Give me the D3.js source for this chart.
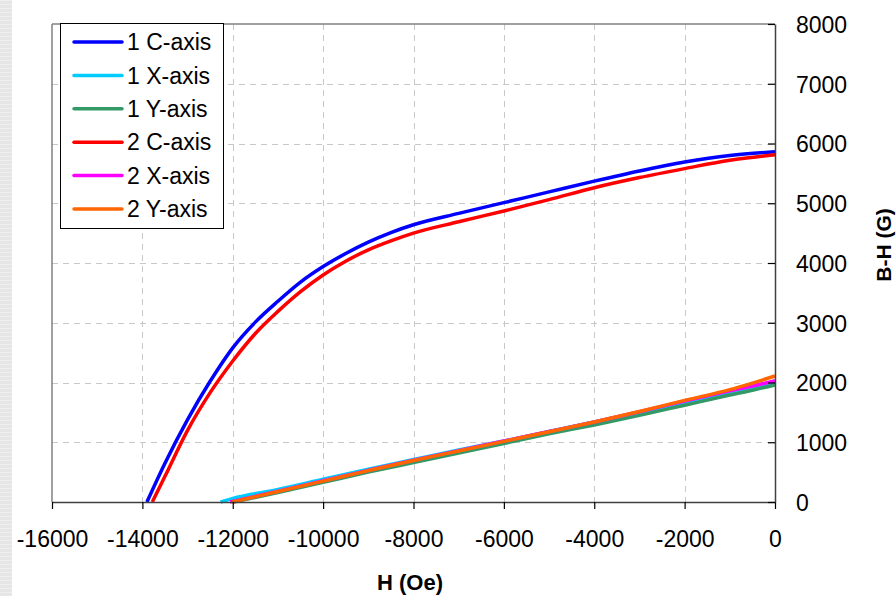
<!DOCTYPE html>
<html>
<head>
<meta charset="utf-8">
<script src="https://cdn.jsdelivr.net/npm/d3@7"></script>
<style>
  html, body { margin: 0; padding: 0; background: #fff; }
  svg { display: block; font-family: "Liberation Sans", Arial, sans-serif; }
</style>
</head>
<body>
<svg id="chart" width="896" height="596"></svg>
<script>
// ---- data ----
const seriesNames = ["1 C-axis", "1 X-axis", "1 Y-axis", "2 C-axis", "2 X-axis", "2 Y-axis"];
const seriesColors = ["#0000ff", "#00ccff", "#339966", "#ff0000", "#ff00ff", "#ff6600"];

const h1C = [-13900, -13500, -13000, -12500, -12000, -11500, -11000, -10500, -10000, -9500, -9000, -8500, -8000, -7000, -6000, -5000, -4000, -3000, -2000, -1000, 0];
const b1C = [0, 650, 1380, 2020, 2580, 3010, 3360, 3680, 3940, 4160, 4350, 4510, 4640, 4830, 5010, 5190, 5370, 5540, 5690, 5800, 5860];

const h2C = [-13780, -13500, -13000, -12500, -12000, -11500, -11000, -10500, -10000, -9500, -9000, -8500, -8000, -7000, -6000, -5000, -4000, -3000, -2000, -1000, 0];
const b2C = [0, 430, 1200, 1830, 2360, 2820, 3190, 3520, 3800, 4030, 4220, 4370, 4500, 4690, 4870, 5060, 5260, 5430, 5580, 5720, 5810];

const h1X = [-12270, -12000, -11000, -10000, -9000, -8000, -7000, -6000, -5000, -4000, -3000, -2000, -1000, -500, 0];
const b1X = [0, 60, 210, 380, 550, 710, 870, 1020, 1180, 1340, 1500, 1660, 1830, 1910, 1990];

const h1Y = [-11980, -11000, -10000, -9000, -8000, -7000, -6000, -5000, -4000, -3000, -2000, -1000, -500, 0];
const b1Y = [0, 160, 330, 500, 660, 820, 980, 1140, 1290, 1450, 1620, 1790, 1870, 1960];

const h2X = [-12060, -11000, -10000, -9000, -8000, -7000, -6000, -5000, -4000, -3000, -2000, -1000, -500, 0];
const b2X = [0, 180, 355, 530, 700, 860, 1020, 1180, 1340, 1510, 1690, 1860, 1940, 2030];

const h2Y = [-12010, -11000, -10000, -9000, -8000, -7000, -6000, -5000, -4000, -3000, -2000, -1000, -500, 0];
const b2Y = [0, 175, 350, 525, 695, 855, 1015, 1175, 1340, 1515, 1700, 1880, 1990, 2110];

const xTicks = [-16000, -14000, -12000, -10000, -8000, -6000, -4000, -2000, 0];
const yTicks = [0, 1000, 2000, 3000, 4000, 5000, 6000, 7000, 8000];
const xTitle = "H (Oe)";
const yTitle = "B-H (G)";

// ---- layout ----
const svg = d3.select("#chart");
const L = 52, R = 775, T = 24, B = 502;
const x = d3.scaleLinear().domain([-16000, 0]).range([L, R]);
const y = d3.scaleLinear().domain([0, 8000]).range([B, T]);

// left textured stripe
const stripe = svg.append("g");
stripe.append("rect").attr("x", 0).attr("y", 0).attr("width", 12).attr("height", 596).attr("fill", "#e6e6e6");
stripe.selectAll("line.s").data(d3.range(0, 596, 4)).join("line")
  .attr("x1", 0).attr("x2", 12).attr("y1", d => d + 0.5).attr("y2", d => d + 0.5)
  .attr("stroke", "#efefef").attr("stroke-width", 1);

// grid
const grid = svg.append("g");
grid.selectAll("line.gx").data(xTicks.filter(t => t > -16000 && t < 0)).join("line")
  .attr("x1", d => Math.round(x(d)) + 0.5).attr("x2", d => Math.round(x(d)) + 0.5)
  .attr("y1", T).attr("y2", B)
  .attr("stroke", "#c8c8c8").attr("stroke-width", 1).attr("stroke-dasharray", "6,5");
grid.selectAll("line.gy").data(yTicks.filter(t => t > 0 && t < 8000)).join("line")
  .attr("x1", L).attr("x2", R)
  .attr("y1", d => Math.round(y(d)) + 0.5).attr("y2", d => Math.round(y(d)) + 0.5)
  .attr("stroke", "#c8c8c8").attr("stroke-width", 1).attr("stroke-dasharray", "6,5");

// frame top & left
svg.append("line").attr("x1", L).attr("x2", R).attr("y1", T).attr("y2", T).attr("stroke", "#808080").attr("stroke-width", 1.5);
svg.append("line").attr("x1", L).attr("x2", L).attr("y1", T).attr("y2", B).attr("stroke", "#808080").attr("stroke-width", 1.5);

// series
const seriesH = [h1C, h1X, h1Y, h2C, h2X, h2Y];
const seriesB = [b1C, b1X, b1Y, b2C, b2X, b2Y];
const line = d3.line().x(d => x(d[0])).y(d => y(d[1])).curve(d3.curveMonotoneX);
const order = [0, 3, 1, 2, 4, 5];
const plot = svg.append("g");
order.forEach(i => {
  const pts = seriesH[i].map((h, k) => [h, seriesB[i][k]]);
  plot.append("path").datum(pts).attr("d", line)
    .attr("fill", "none").attr("stroke", seriesColors[i]).attr("stroke-width", 3.5)
    .attr("stroke-linejoin", "round");
});

// axes
const fs = 23;
const fmt = d => String(d);
const xAxis = d3.axisBottom(x).tickValues(xTicks).tickFormat(fmt).tickSize(7).tickSizeOuter(0);
const gx = svg.append("g").attr("transform", `translate(0,${B})`).call(xAxis);
gx.select(".domain").attr("stroke", "#404040").attr("stroke-width", 1.5);
gx.selectAll(".tick line").attr("stroke", "#000").attr("stroke-width", 1.2);
gx.selectAll(".tick text").attr("font-size", fs).attr("fill", "#000").attr("font-family", "Liberation Sans, Arial, sans-serif")
  .attr("y", 0).attr("dy", 0).attr("transform", "translate(0,45)");

const yAxis = d3.axisLeft(y).tickValues(yTicks).tickFormat(fmt).tickSize(7).tickSizeOuter(0);
const gy = svg.append("g").attr("transform", `translate(${R},0)`).call(yAxis);
gy.select(".domain").attr("stroke", "#404040").attr("stroke-width", 1.5);
gy.selectAll(".tick line").attr("stroke", "#000").attr("stroke-width", 1.2);
gy.selectAll(".tick text").attr("font-size", fs).attr("fill", "#000").attr("font-family", "Liberation Sans, Arial, sans-serif")
  .attr("text-anchor", "start").attr("x", 21).attr("dy", "0.36em");

// axis titles
svg.append("text").attr("x", 410).attr("y", 590).attr("text-anchor", "middle")
  .attr("font-size", 22).attr("font-weight", "bold").text(xTitle);
svg.append("text").attr("transform", "translate(891,245) rotate(-90)").attr("text-anchor", "middle")
  .attr("font-size", 21).attr("font-weight", "bold").text(yTitle);

// legend
const lg = svg.append("g");
lg.append("rect").attr("x", 60.5).attr("y", 23.5).attr("width", 163).attr("height", 205)
  .attr("fill", "#fff").attr("stroke", "#000").attr("stroke-width", 1);
seriesNames.forEach((name, i) => {
  const cy = 42 + i * 33.4;
  lg.append("line").attr("x1", 74).attr("x2", 122).attr("y1", cy).attr("y2", cy)
    .attr("stroke", seriesColors[i]).attr("stroke-width", 3.5).attr("stroke-linecap", "round");
  lg.append("text").attr("x", 127).attr("y", cy).attr("dy", "0.36em")
    .attr("font-size", 23).attr("fill", "#000").text(name);
});
</script>
</body>
</html>
